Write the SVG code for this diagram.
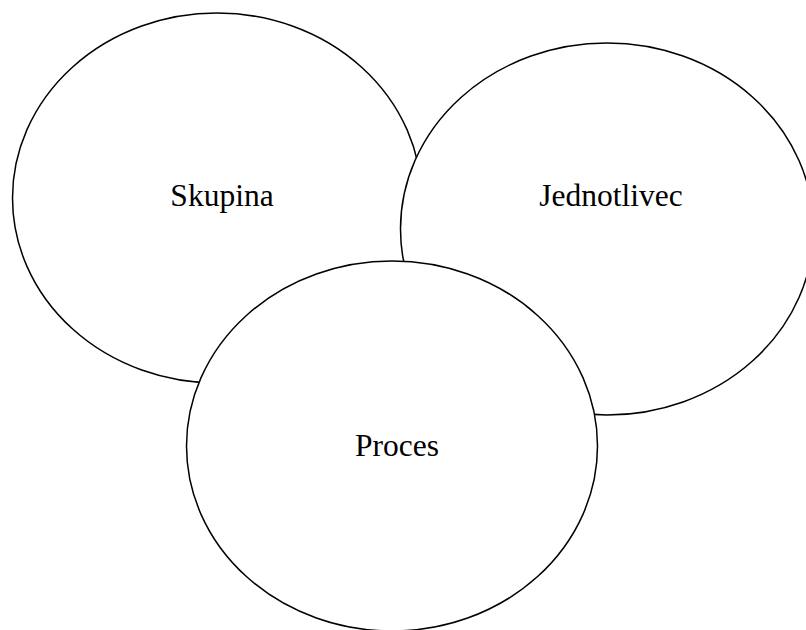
<svg xmlns="http://www.w3.org/2000/svg" width="806" height="630" viewBox="0 0 806 630">
<style>
.n ellipse{fill:#fff;stroke:#000;stroke-width:1.5}
.n text{font-family:"Liberation Serif","Times New Roman",serif;font-size:31.5px;fill:#000;text-anchor:middle}
</style>
<rect width="806" height="630" fill="#fff"/>
<g id="connectors"></g>
<g id="skupina" class="n">
<ellipse cx="217" cy="198" rx="204.5" ry="185"/>
<text x="222" y="206">Skupina</text>
</g>
<g id="jednotlivec" class="n">
<ellipse cx="607" cy="229" rx="206.5" ry="186"/>
<text x="611" y="206">Jednotlivec</text>
</g>
<g id="proces" class="n">
<ellipse cx="392" cy="446" rx="205.5" ry="185"/>
<text x="397" y="456">Proces</text>
</g>
</svg>
